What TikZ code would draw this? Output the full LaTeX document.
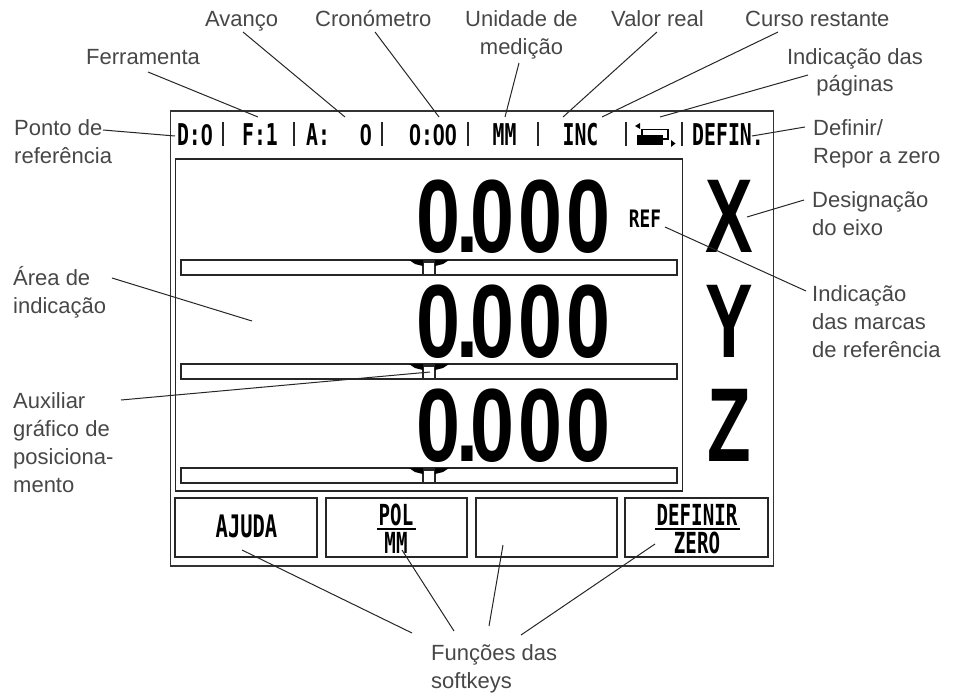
\documentclass[tikz,border=0pt]{standalone}
\usepackage{fontspec}
\setmainfont{Liberation Sans}
\newfontfamily\lcdm[FakeStretch=0.66]{DejaVu Sans Mono Bold}
\newfontfamily\lcdz[FakeStretch=0.72]{Liberation Sans Bold}
\newfontfamily\reff[FakeStretch=0.74]{DejaVu Sans Mono Bold}
\newfontfamily\bigf[FakeStretch=0.76]{Liberation Sans Bold}
\newfontfamily\axf[FakeStretch=0.68]{Liberation Sans Bold}
\newcommand\zr{{\lcdz 0}}
\newcommand\bignum{0\kern-4pt.\kern-7pt 0\kern4pt 0\kern4pt 0}
\begin{document}
\begin{tikzpicture}[x=1pt,y=-1pt,
 lab/.style={font=\fontsize{22}{28}\selectfont,text=black!72,align=left,inner sep=0pt,anchor=base west},
 labc/.style={lab,align=center,anchor=base},
 lead/.style={draw=black!85,line width=1pt},
 outer/.style={draw=black!80,line width=1.1pt},
 frame/.style={draw=black!85,line width=1.5pt},
 softkey/.style={frame,minimum height=59pt,inner sep=0pt},
 hd/.style={font=\lcdm\fontsize{30}{30}\selectfont,inner sep=0pt,anchor=base},
 sk/.style={font=\lcdm\fontsize{29}{29}\selectfont,inner sep=0pt,anchor=base},
 divider/.style={draw=black!85,line width=1.5pt},
 num/.style={font=\bigf\fontsize{104}{104}\selectfont,inner sep=0pt,anchor=base east},
 ax/.style={font=\axf\fontsize{105}{105}\selectfont,inner sep=0pt,anchor=base}]
\useasboundingbox (0,0) rectangle (958,693);
% frames
\draw[outer] (170.5,111) rectangle (773.5,566);
\draw[frame] (175.5,159) rectangle (682.5,491);
\foreach \y in {260,364,468}{
 \draw[frame] (181,\y) rectangle (677,\y+15);
 \draw[frame,fill=white] (423,\y+2) rectangle (435,\y+15);
 \fill[black] (409,\y) -- (423,\y) -- (423,\y+6) -- (415,\y+4) -- cycle;
 \fill[black] (435,\y) -- (449,\y) -- (443,\y+4) -- (435,\y+6) -- cycle;
}
\node[softkey,minimum width=142pt] (k1) at (246,527.5) {};
\node[softkey,minimum width=141pt] (k2) at (396.5,527.5) {};
\node[softkey,minimum width=141pt] (k3) at (546.5,527.5) {};
\node[softkey,minimum width=143pt] (k4) at (696.5,527.5) {};
\node[sk,font=\lcdm\fontsize{31}{31}\selectfont] (t1) at (246.5,537) {AJUDA};
\node[sk] (t2a) at (396,525) {POL};
\node[sk] (t2b) at (396,553) {MM};
\draw[line width=2pt] (377,529) -- (416,529);
\node[sk] (t4a) at (697,525) {DEFINIR};
\node[sk] (t4b) at (697,553) {ZERO};
\draw[line width=2pt] (655,529) -- (740,529);
% header
\node[hd] (h1) at (195,145) {D:\zr};
\node[hd] (h2) at (260,145) {F:1};
\node[hd] (h3) at (318,145) {A:};
\node[hd] (h4) at (366,145) {\zr};
\node[hd] (h5) at (433,145) {\zr:\zr\zr};
\node[hd] (h6) at (504.5,145) {MM};
\node[hd] (h7) at (580.5,145) {INC};
\node[hd] (h8) at (728,145) {DEFIN.};
\foreach \x in {223,294,382,468,538,626,682}
  \draw[divider] (\x,122) -- (\x,146);
\fill[black] (637,135) rectangle (663,145);
\draw[line width=1.4pt] (642,135) -- (642,129.5) -- (668,129.5) -- (668,139) -- (663,139);
\fill[black] (640,123) -- (635,126) -- (640,129) -- cycle;
\fill[black] (671,140) -- (675.5,143.5) -- (671,147) -- cycle;
% digits
\node[num] (n1) at (611,252) {\bignum};
\node[num] (n2) at (611,357) {\bignum};
\node[num] (n3) at (611,461) {\bignum};
\node[font=\reff\fontsize{24}{24}\selectfont,inner sep=0pt,anchor=base] (ref) at (645,227) {REF};
\node[ax] (x) at (729,252.5) {X};
\node[ax] (y) at (729,357) {Y};
\node[ax] (z) at (729,461) {Z};
% labels
\node[lab] (a) at (205,27) {Avanço};
\node[lab] (b) at (315,27) {Cronómetro};
\node[labc] (c) at (521.5,55) {Unidade de\\medição};
\node[lab] (d) at (611,27) {Valor real};
\node[lab] (e) at (745,27) {Curso restante};
\node[labc] (f) at (855,92) {Indicação das\\páginas};
\node[lab] (g) at (86,65) {Ferramenta};
\node[lab] (h) at (14,163) {Ponto de\\referência};
\node[lab] (i) at (813,163) {Definir/\\Repor a zero};
\node[lab] (j) at (812,235) {Designação\\do eixo};
\node[lab] (k) at (13,313) {Área de\\indicação};
\node[lab] (l) at (812,357) {Indicação\\das marcas\\de referência};
\node[lab] (m) at (13,492) {Auxiliar\\gráfico de\\posiciona-\\mento};
\node[lab] (o) at (431,688) {Funções das\\softkeys};
% leaders
\foreach \n/\ax/\ay/\bx/\by in {la/243/32/345/117,lb/375/32/439/117,lc/519/63/505/117,ld/657/32/563/117,le/778/32/602/117,lf/808/75/660/117,lg/148/72/258/117,lh/103/130/175/136,li/805/127/752/136,lj/804/200/747/217,ll/806/291/665/227,lk/112/278/252/321,lm/121/400/430/372,lo/412/633/242/550,lp/454/631/402/550,lq/489/626/503/545,lr/521/635/655/544}{
 \coordinate (\n s) at (\ax,\ay);
 \coordinate (\n e) at (\bx,\by);
 \draw[lead] (\n s) -- (\n e);
}
\end{tikzpicture}
\end{document}
